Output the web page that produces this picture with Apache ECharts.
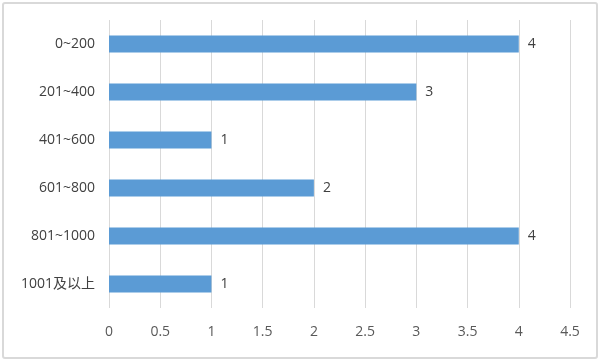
<!DOCTYPE html>
<html><head><meta charset="utf-8">
<script src="https://cdn.jsdelivr.net/npm/echarts@6/dist/echarts.min.js"></script>
<style>html,body{margin:0;padding:0;background:#fff}#c{width:600px;height:362px}</style>
</head><body><div id="c"></div>
<script>
const categories = ['0~200','201~400','401~600','601~800','801~1000','1001及以上'];
const values = [4,3,1,2,4,1];
const xTicks = [0,0.5,1,1.5,2,2.5,3,3.5,4,4.5];
const font = '"Open Sans","Noto Sans CJK SC",sans-serif';
const chart = echarts.init(document.getElementById('c'));
chart.setOption({
  animation:false,
  backgroundColor:'#fff',
  graphic:[{type:'rect',shape:{x:3,y:3,width:594,height:355,r:2},style:{fill:'none',stroke:'#d9d9d9',lineWidth:2},silent:true}],
  grid:{left:109,right:30,top:20,bottom:54,containLabel:false},
  xAxis:{type:'value',min:0,max:4.5,interval:0.5,
    axisLine:{show:false},axisTick:{show:false},
    axisLabel:{color:'#595959',fontSize:14,fontFamily:font,margin:17,
      formatter:v=>String(xTicks.find(t=>Math.abs(t-v)<1e-9) ?? v)},
    splitLine:{lineStyle:{color:'#d9d9d9',width:1}}},
  yAxis:{type:'category',data:categories,inverse:true,
    axisLine:{show:false},axisTick:{show:false},
    axisLabel:{color:'#404040',fontSize:14,fontFamily:font,margin:14}},
  series:[{type:'bar',data:values,barWidth:17,
    itemStyle:{color:'#5b9bd5'},
    label:{show:true,position:'right',distance:9,color:'#404040',fontSize:14,fontFamily:font}}]
});
</script></body></html>
